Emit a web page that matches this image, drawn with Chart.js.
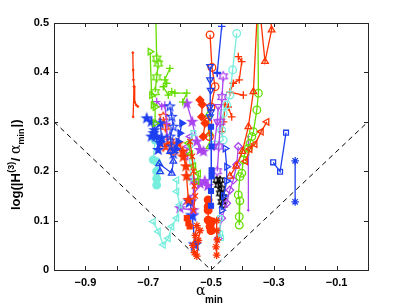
<!DOCTYPE html>
<html>
<head>
<meta charset="utf-8">
<script src="https://cdn.jsdelivr.net/npm/chart.js@4/dist/chart.umd.min.js"></script>
<style>
  html, body { margin: 0; padding: 0; background: #fff; }
  #wrap { width: 407px; height: 306px; position: relative; }
</style>
</head>
<body>
<div id="wrap"><canvas id="chart-canvas"></canvas></div>
<script>
// tick labels
const xTickValues = [-0.9, -0.7, -0.5, -0.3, -0.1];
const yTickLabels = ['0', '0.1', '0.2', '0.3', '0.4', '0.5'];

// the dashed V guide
const guideX = [-1, -0.5, 0];
const guideY = [0.3, 0, 0.3];

// red runs
const red1 = [[-0.749,0.44],[-0.748,0.405],[-0.747,0.385],[-0.745,0.371],[-0.748,0.31]];
const red1b = [[-0.745,0.371],[-0.743,0.34],[-0.738,0.334],[-0.733,0.331]];
const red2 = [[-0.503,0.476],[-0.497,0.41],[-0.487,0.371],[-0.5,0.33],[-0.51,0.3],[-0.505,0.27]];
const red3 = [[-0.345,0.53],[-0.328,0.422],[-0.307,0.486],[-0.312,0.53]];
const red3b = [[-0.352,0.53],[-0.365,0.361],[-0.381,0.29],[-0.4,0.24],[-0.42,0.21],[-0.44,0.19]];
const red4 = [[-0.322,0.3],[-0.34,0.28],[-0.36,0.255],[-0.376,0.245],[-0.39,0.22]];
const red5 = [[-0.413,0.432],[-0.402,0.422],[-0.41,0.385],[-0.429,0.378],[-0.44,0.36],[-0.397,0.354]];
const red6 = [[-0.434,0.31],[-0.445,0.33],[-0.455,0.335],[-0.46,0.3],[-0.465,0.28]];
const red7 = [[-0.652,0.31],[-0.645,0.29],[-0.636,0.25],[-0.652,0.25],[-0.63,0.26],[-0.62,0.24]];
const red8 = [[-0.535,0.344],[-0.528,0.335],[-0.53,0.31],[-0.519,0.297],[-0.525,0.27]];
const red9 = [[-0.604,0.256],[-0.59,0.24],[-0.588,0.229],[-0.58,0.21],[-0.578,0.19],[-0.572,0.142]];
const red10 = [[-0.567,0.26],[-0.56,0.23],[-0.556,0.2],[-0.553,0.17],[-0.55,0.15],[-0.556,0.12]];
const red11 = [[-0.577,0.105],[-0.572,0.095],[-0.568,0.088]];
const red12 = [[-0.545,0.09],[-0.55,0.07],[-0.558,0.05],[-0.553,0.035],[-0.545,0.028],[-0.54,0.06],[-0.535,0.08]];
const red13 = [[-0.509,0.142],[-0.509,0.128],[-0.509,0.121],[-0.509,0.101],[-0.498,0.098],[-0.503,0.088],[-0.5,0.08]];
const red14 = [[-0.482,0.1],[-0.482,0.08],[-0.48,0.061],[-0.484,0.047],[-0.482,0.03]];

// green runs
const green1 = [[-0.676,0.52],[-0.673,0.428],[-0.668,0.418],[-0.673,0.39],[-0.678,0.36]];
const green2 = [[-0.694,0.442],[-0.689,0.354],[-0.684,0.334],[-0.678,0.33],[-0.678,0.297]];
const green3 = [[-0.631,0.408],[-0.647,0.385],[-0.641,0.378],[-0.652,0.371],[-0.636,0.354],[-0.625,0.361],[-0.615,0.358],[-0.577,0.358],[-0.59,0.34]];
const green4 = [[-0.509,0.314],[-0.503,0.277],[-0.505,0.25]];
const green5 = [[-0.351,0.53],[-0.349,0.358],[-0.354,0.324],[-0.365,0.28],[-0.37,0.27],[-0.376,0.256],[-0.381,0.246],[-0.392,0.236],[-0.397,0.223],[-0.402,0.196],[-0.408,0.189],[-0.413,0.152],[-0.408,0.14],[-0.41,0.108],[-0.41,0.091]];
const green6 = [[-0.572,0.257],[-0.565,0.235],[-0.555,0.21],[-0.54,0.195],[-0.545,0.18]];

// blue runs
const blue1 = [[-0.705,0.307],[-0.69,0.3],[-0.683,0.277],[-0.69,0.27],[-0.68,0.283],[-0.662,0.297],[-0.657,0.267],[-0.662,0.257],[-0.668,0.243],[-0.675,0.27]];
const blue2 = [[-0.631,0.331],[-0.625,0.31],[-0.62,0.29],[-0.63,0.27],[-0.625,0.25],[-0.62,0.235]];
const blue3 = [[-0.593,0.297],[-0.599,0.277],[-0.605,0.26],[-0.61,0.245]];
const blue4 = [[-0.662,0.199],[-0.665,0.215],[-0.625,0.196],[-0.62,0.22],[-0.63,0.24]];
const blue5 = [[-0.466,0.493],[-0.48,0.4],[-0.48,0.398]];
const blue5b = [[-0.503,0.412],[-0.503,0.385],[-0.501,0.364],[-0.503,0.33],[-0.5,0.32],[-0.503,0.31]];
const blue6 = [[-0.5,0.29],[-0.498,0.25],[-0.498,0.202],[-0.498,0.19],[-0.5,0.16],[-0.5,0.13]];
const blue7 = [[-0.455,0.246],[-0.45,0.209],[-0.45,0.18],[-0.46,0.15],[-0.466,0.121]];
const blue8 = [[-0.567,0.138],[-0.56,0.11],[-0.551,0.051]];
const blue9 = [[-0.302,0.218],[-0.28,0.199],[-0.261,0.278]];
const blue10 = [[-0.232,0.221],[-0.232,0.138]];

// cyan runs
const cyan1 = [[-0.418,0.479],[-0.431,0.405],[-0.44,0.354],[-0.45,0.334],[-0.461,0.317],[-0.466,0.283],[-0.461,0.263],[-0.487,0.253]];
const cyan2 = [[-0.678,0.263],[-0.684,0.223],[-0.673,0.219],[-0.673,0.2],[-0.673,0.185],[-0.673,0.172]];
const cyan3 = [[-0.609,0.182],[-0.609,0.159],[-0.599,0.132],[-0.609,0.105],[-0.625,0.088],[-0.636,0.064],[-0.652,0.051],[-0.668,0.078],[-0.684,0.098]];
const cyan4 = [[-0.556,0.277],[-0.567,0.253],[-0.56,0.22],[-0.567,0.186]];
const cyan5 = [[-0.471,0.105],[-0.471,0.074],[-0.468,0.065]];

// purple runs
const purple1 = [[-0.577,0.337],[-0.56,0.3],[-0.545,0.26],[-0.535,0.243],[-0.524,0.24]];
const purple2 = [[-0.673,0.341],[-0.657,0.331],[-0.647,0.334],[-0.641,0.297],[-0.64,0.27]];
const purple3 = [[-0.413,0.25],[-0.418,0.213],[-0.429,0.182],[-0.44,0.162],[-0.45,0.135],[-0.466,0.105],[-0.477,0.064]];
const purple4 = [[-0.381,0.27],[-0.381,0.233],[-0.381,0.121]];
const purple5 = [[-0.461,0.392],[-0.465,0.35],[-0.47,0.3],[-0.475,0.25],[-0.48,0.2]];
const purple6 = [[-0.477,0.331],[-0.48,0.3],[-0.49,0.25]];
const purple7 = [[-0.535,0.175],[-0.556,0.182],[-0.556,0.121],[-0.599,0.125],[-0.52,0.18],[-0.51,0.17]];
const purple8 = [[-0.567,0.27],[-0.575,0.25],[-0.58,0.23]];

// black run
const black1 = [[-0.482,0.182],[-0.471,0.182],[-0.477,0.172],[-0.466,0.165],[-0.471,0.155],[-0.461,0.148],[-0.466,0.138],[-0.461,0.132]];

// colours
const RED = '#ff3300';
const GREEN = '#66dd00';
const BLUE = '#1f3ff0';
const CYAN = '#77eedd';
const PURPLE = '#aa44ee';
const BLACK = '#000000';

// I list every run with its look (marker letters follow MATLAB)
const runs = [
  { d: red1, c: RED, m: '.' }, { d: red1b, c: RED, m: '.' },
  { d: green1, c: GREEN, m: 'h' }, { d: green2, c: GREEN, m: '>' },
  { d: green3, c: GREEN, m: '+' },
  { d: blue1, c: BLUE, m: 'p', f: true }, { d: blue2, c: BLUE, m: 'p' },
  { d: blue3, c: BLUE, m: '>', f: true }, { d: blue4, c: BLUE, m: '^' },
  { d: cyan2, c: CYAN, m: 'o', f: true }, { d: cyan3, c: CYAN, m: '<' },
  { d: purple2, c: PURPLE, m: '+' },
  { d: red7, c: RED, m: 'h' }, { d: red9, c: RED, m: 'p', f: true },
  { d: red10, c: RED, m: 'x' }, { d: green6, c: GREEN, m: '<' },
  { d: cyan4, c: CYAN, m: 's' }, { d: purple8, c: PURPLE, m: '<' },
  { d: purple1, c: PURPLE, m: 'p', f: true },
  { d: red8, c: RED, m: 'd', f: true }, { d: red11, c: RED, m: 's', f: true },
  { d: red12, c: RED, m: '*' },
  { d: blue5b, c: BLUE, m: 'v' }, { d: blue5, c: BLUE, m: '+' },
  { d: blue6, c: BLUE, m: 's', f: true },
  { d: red2, c: RED, m: 'o' }, { d: green4, c: GREEN, m: '^' },
  { d: purple5, c: PURPLE, m: 'h' }, { d: purple6, c: PURPLE, m: 'v' },
  { d: purple7, c: PURPLE, m: 'p', f: true },
  { d: red13, c: RED, m: 'o', f: true }, { d: red14, c: RED, m: '*' },
  { d: blue8, c: BLUE, m: 'p', f: true, r: 5 },
  { d: cyan1, c: CYAN, m: 'o' }, { d: cyan5, c: CYAN, m: 's' },
  { d: blue7, c: BLUE, m: '>' },
  { d: red5, c: RED, m: '+' }, { d: red6, c: RED, m: '+' },
  { d: red3, c: RED, m: '^' }, { d: red3b, c: RED, m: '^' },
  { d: red4, c: RED, m: '<' },
  { d: green5, c: GREEN, m: 'o' },
  { d: purple3, c: PURPLE, m: 'd' }, { d: purple4, c: PURPLE, m: '.' },
  { d: black1, c: BLACK, m: 'h', r: 3 },
  { d: blue9, c: BLUE, m: 's' }, { d: blue10, c: BLUE, m: '*' }
];

// I build small canvases for the star markers Chart.js does not have
const markerCache = {};
function starMarker(kind, color, filled, r) {
  const key = kind + color + filled + r;
  if (markerCache[key]) return markerCache[key];
  const n = kind === 'p' ? 5 : 6;
  const inner = kind === 'p' ? 0.42 : 0.55;
  const size = Math.ceil(r * 2 + 4);
  const cv = document.createElement('canvas');
  cv.width = size; cv.height = size;
  const ctx = cv.getContext('2d');
  ctx.beginPath();
  for (let i = 0; i < n * 2; i++) {
    const rad = i % 2 === 0 ? r : r * inner;
    const a = -Math.PI / 2 + i * Math.PI / n;
    const px = size / 2 + rad * Math.cos(a);
    const py = size / 2 + rad * Math.sin(a);
    if (i === 0) ctx.moveTo(px, py); else ctx.lineTo(px, py);
  }
  ctx.closePath();
  ctx.lineWidth = 1.2;
  ctx.strokeStyle = color;
  if (filled) { ctx.fillStyle = color; ctx.fill(); }
  ctx.stroke();
  markerCache[key] = cv;
  return cv;
}

function toDataset(run) {
  const r = run.r || 3.8;
  const ds = {
    data: run.d.map(p => ({ x: p[0], y: p[1] })),
    showLine: true,
    borderColor: run.c,
    borderWidth: 1.3,
    pointBorderColor: run.c,
    pointBackgroundColor: run.f ? run.c : 'rgba(0,0,0,0)',
    pointBorderWidth: 1.3,
    pointRadius: r,
    pointRotation: 0
  };
  const m = run.m;
  if (m === 'o') ds.pointStyle = 'circle';
  else if (m === '.') { ds.pointStyle = 'circle'; ds.pointRadius = 0.9; ds.pointBorderWidth = 1; ds.pointBackgroundColor = run.c; }
  else if (m === '^') ds.pointStyle = 'triangle';
  else if (m === 'v') { ds.pointStyle = 'triangle'; ds.pointRotation = 180; }
  else if (m === '<') { ds.pointStyle = 'triangle'; ds.pointRotation = 270; }
  else if (m === '>') { ds.pointStyle = 'triangle'; ds.pointRotation = 90; }
  else if (m === 's') { ds.pointStyle = 'rect'; ds.pointRadius = r * 0.9; }
  else if (m === 'd') ds.pointStyle = 'rectRot';
  else if (m === '+') ds.pointStyle = 'cross';
  else if (m === 'x') ds.pointStyle = 'crossRot';
  else if (m === '*') ds.pointStyle = 'star';
  else if (m === 'p' || m === 'h') ds.pointStyle = starMarker(m, run.c, !!run.f, r + 1);
  return ds;
}

const datasets = runs.map(toDataset);

// the dashed V goes on top
datasets.push({
  data: guideX.map((x, i) => ({ x: x, y: guideY[i] })),
  showLine: true,
  borderColor: '#000',
  borderWidth: 1,
  borderDash: [5, 4],
  pointRadius: 0
});

// I draw the box, the inward ticks and the axis titles myself, MATLAB style
const matlabFrame = {
  id: 'matlabFrame',
  afterDraw(chart) {
    const ctx = chart.ctx;
    const a = chart.chartArea;
    const xs = chart.scales.x, ys = chart.scales.y;
    ctx.save();
    ctx.strokeStyle = '#262626';
    ctx.lineWidth = 1;
    ctx.strokeRect(Math.round(a.left) + 0.5, Math.round(a.top) + 0.5,
      Math.round(a.right - a.left), Math.round(a.bottom - a.top));
    const tl = 4;
    ctx.beginPath();
    for (let i = 0; i <= 10; i++) {
      const px = Math.round(xs.getPixelForValue(-1 + i / 10)) + 0.5;
      ctx.moveTo(px, a.bottom); ctx.lineTo(px, a.bottom - tl);
      ctx.moveTo(px, a.top); ctx.lineTo(px, a.top + tl);
    }
    for (let i = 0; i <= 5; i++) {
      const py = Math.round(ys.getPixelForValue(i / 10)) + 0.5;
      ctx.moveTo(a.left, py); ctx.lineTo(a.left + tl, py);
      ctx.moveTo(a.right, py); ctx.lineTo(a.right - tl, py);
    }
    ctx.stroke();

    // x title: alpha with subscript min
    ctx.fillStyle = '#000';
    ctx.textBaseline = 'alphabetic';
    ctx.textAlign = 'left';
    ctx.font = '14px "DejaVu Serif", serif';
    ctx.fillText('\u03b1', 196, 295);
    ctx.font = 'bold 10px "Liberation Sans", Arial, sans-serif';
    ctx.fillText('min', 205, 303);

    // y title, rotated
    ctx.translate(20, 210);
    ctx.rotate(-Math.PI / 2);
    let x = 0;
    const big = 'bold 13px "Liberation Sans", Arial, sans-serif';
    const small = 'bold 9px "Liberation Sans", Arial, sans-serif';
    ctx.font = big; ctx.fillText('log(|H', x, 0); x += ctx.measureText('log(|H').width;
    ctx.font = small; ctx.fillText('(3)', x + 0.5, -6); x += ctx.measureText('(3)').width + 1;
    ctx.font = big; ctx.fillText('/ ', x, 0); x += ctx.measureText('/ ').width;
    ctx.font = '14px "DejaVu Serif", serif'; ctx.fillText('\u03b1', x, 0); x += ctx.measureText('\u03b1').width;
    ctx.font = small; ctx.fillText('min', x, 4); x += ctx.measureText('min').width + 1;
    ctx.font = big; ctx.fillText('|)', x, 0);
    ctx.restore();
  }
};

const tickFont = { family: '"Liberation Sans", Arial, sans-serif', size: 11, weight: 'bold' };

new Chart(document.getElementById('chart-canvas'), {
  type: 'scatter',
  data: { datasets: datasets },
  options: {
    responsive: true,
    maintainAspectRatio: false,
    animation: false,
    events: [],
    layout: { padding: { left: 0, right: 39, top: 23, bottom: 0 } },
    plugins: { legend: { display: false }, tooltip: { enabled: false } },
    scales: {
      x: {
        type: 'linear', min: -1, max: 0,
        grid: { display: false, drawTicks: false },
        border: { display: false },
        afterFit(scale) { scale.height = 36; },
        ticks: {
          stepSize: 0.1, padding: 6, color: '#000', font: tickFont,
          maxRotation: 0, autoSkip: false,
          callback(v) {
            const k = Math.round(v * 10) / 10;
            return xTickValues.includes(k) ? '\u2212' + Math.abs(k).toFixed(1) : '';
          }
        }
      },
      y: {
        type: 'linear', min: 0, max: 0.5,
        grid: { display: false, drawTicks: false },
        border: { display: false },
        afterFit(scale) { scale.width = 54; },
        ticks: {
          stepSize: 0.1, padding: 5, color: '#000', font: tickFont,
          callback(v) { return yTickLabels[Math.round(v * 10)]; }
        }
      }
    }
  },
  plugins: [matlabFrame]
});
</script>
</body>
</html>
